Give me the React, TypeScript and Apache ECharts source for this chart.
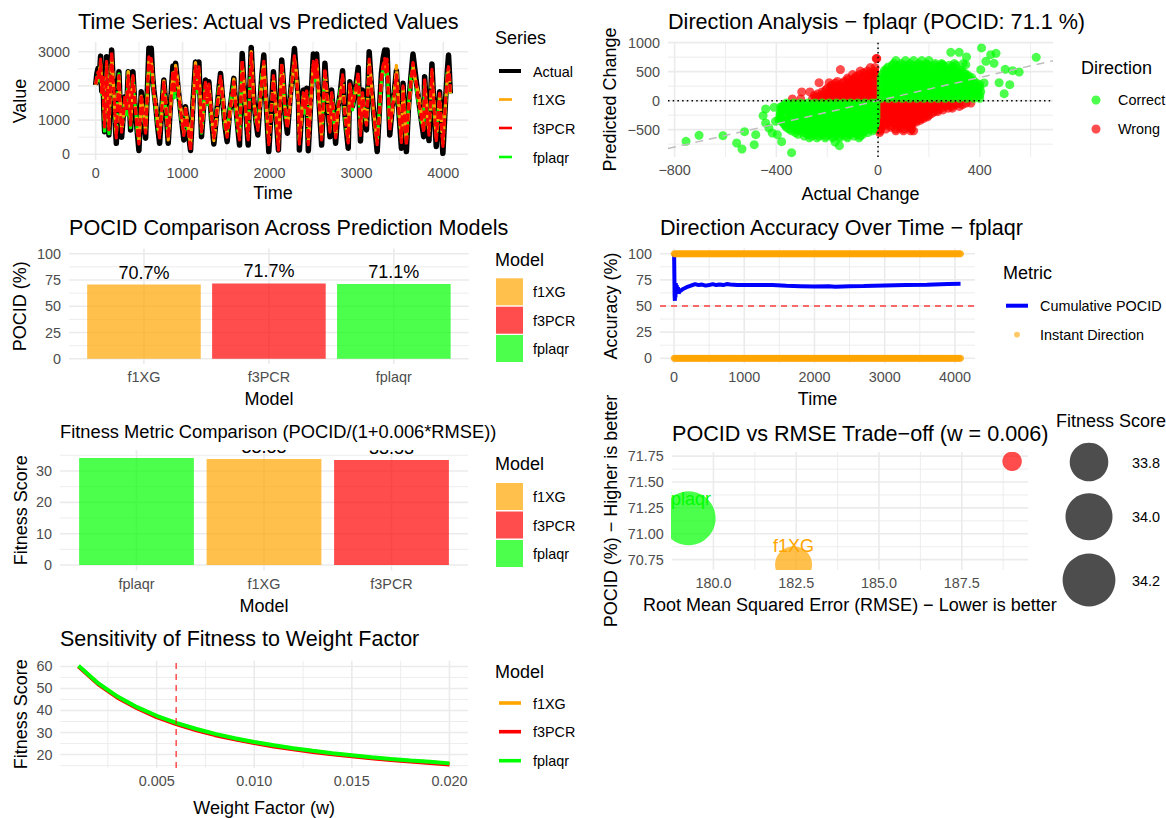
import React, { useEffect, useRef } from "react";
import * as echarts from "echarts";

const FONT = "Liberation Sans";
const ORANGE = "#FFA500";
const RED = "#FF0000";
const GREEN = "#00FF00";
const BLUE = "#0000FF";
const TICK = "#4D4D4D";

// Panel 1: time series
const tsTime = [0,14,27,42,57,70,85,94,103,115,
126,140,153,168,184,198,211,225,238,253,
268,283,299,318,337,356,375,389,402,416,
429,445,460,479,498,512,525,550,575,594,
613,627,640,655,670,692,714,736,760,785,
810,835,862,889,905,920,950,985,1015,1034,
1063,1092,1120,1149,1170,1188,1203,1218,1241,1264,
1284,1303,1331,1360,1385,1410,1437,1465,1490,1513,
1540,1565,1590,1612,1635,1655,1670,1686,1705,1724,
1740,1755,1772,1790,1805,1820,1843,1866,1890,1912,
1935,1954,1975,1992,2020,2046,2075,2103,2122,2141,
2157,2172,2189,2206,2233,2260,2287,2310,2333,2344,
2367,2390,2410,2428,2447,2476,2505,2525,2543,2566,
2589,2600,2619,2638,2667,2696,2715,2738,2761,2790,
2815,2841,2863,2885,2906,2925,2955,2988,3021,3047,
3070,3093,3116,3131,3147,3170,3193,3216,3239,3263,
3288,3307,3326,3340,3353,3368,3384,3410,3435,3460,
3490,3518,3537,3556,3575,3600,3625,3651,3678,3710,
3742,3774,3785,3810,3835,3852,3869,3894,3919,3938,
3957,3976,3995,4026,4045,4060,4072,4080];
const tsActual = [2025,2350,2510,2250,2870,1850,2270,1300,660,1700,
2850,1500,565,1900,3050,2300,1780,900,320,1600,
2415,1350,500,1150,1685,1250,2415,1500,710,1600,
2415,1700,1200,650,110,1000,1830,1100,470,1800,
3100,2700,3100,2300,1880,1400,800,320,1300,2170,
1300,320,1500,2580,1800,2660,1900,1100,420,1390,
700,110,1500,2700,1900,2700,1600,515,1350,2170,
1500,2120,1100,300,1000,1700,2365,1500,800,370,
1200,1700,2220,1400,800,270,1600,2950,2100,1390,
800,270,1800,3125,2300,1590,1000,565,1500,2300,
2900,1800,900,80,1300,2415,1200,125,1500,2755,
2200,1590,1000,615,1500,2300,3095,2300,1590,125,
1100,1880,1300,1930,105,1600,2930,2300,2930,1700,
760,270,1500,2660,1500,515,1880,1100,320,1400,
1800,2445,1300,700,175,2120,1400,1900,2540,390,
1880,1200,710,1800,3000,2100,1390,700,80,1200,
2365,2800,3050,2500,3050,1800,565,1300,1800,2445,
1200,175,2075,1000,80,1400,2200,2930,2365,1700,
1100,515,2270,1200,400,1500,2640,1300,225,1100,
1830,900,30,1590,2400,2900,2300,1780];
const tsF3PCR = [2050,2300,2400,2200,2780,1800,2250,1350,800,1650,
2720,1500,720,1850,3000,2250,1800,1000,480,1550,
2300,1300,650,1150,1700,1300,2300,1500,850,1550,
2300,1650,1250,720,300,1050,1750,1100,620,1750,
2850,2500,2800,2200,1800,1350,850,480,1300,2100,
1300,480,1500,2450,1800,2500,1850,1100,550,1400,
750,100,1500,2580,1850,2560,1550,650,1350,2100,
1500,2050,1150,480,1050,1700,2280,1500,850,500,
1200,1650,2120,1400,850,420,1550,2750,2000,1400,
850,420,1750,2950,2200,1550,1050,700,1500,2200,
2720,1750,950,280,1300,2300,1150,120,1500,2650,
2150,1550,1050,750,1500,2200,2880,2200,1550,300,
1150,1800,1300,1850,280,1600,2720,2250,2750,1650,
880,420,1500,2500,1500,650,1800,1150,480,1400,
1750,2320,1300,750,330,2050,1400,1850,2400,550,
1800,1200,850,1750,2780,2000,1400,750,280,1200,
2250,2600,2800,2400,2780,1750,700,1300,1750,2320,
1200,340,2000,1050,260,1400,2100,2680,2250,1650,
1150,650,2180,1200,560,1500,2480,1300,400,1100,
1780,950,230,1560,2300,2560,2200,1780];
const tsF1XG = [2030,2150,2350,2400,2700,2000,2200,1500,900,1400,
2640,1700,800,1700,2880,2400,1750,1150,560,1350,
2250,1550,720,1000,1650,1450,2420,1700,900,1400,
2250,1850,1300,850,380,850,1700,1300,700,1600,
2780,2600,2720,2400,1750,1550,1000,560,1100,2150,
1500,420,1300,2380,2000,2600,2050,1250,620,1350,
900,300,1300,2680,2050,2480,1750,720,1150,2050,
1650,2000,1300,400,850,1500,2200,1700,1000,570,
1000,1500,2200,1600,1000,500,1350,2680,2200,1350,
1000,500,1550,3000,2400,1500,1200,780,1300,2050,
2650,1950,1100,350,1100,2230,1400,280,1300,2600,
2300,1500,1200,820,1300,2050,2800,2400,1500,380,
950,1750,1500,1800,360,1400,2650,2400,2680,1850,
950,500,1300,2450,1700,720,1750,1300,560,1200,
1650,2250,1500,900,400,2000,1600,1700,2350,620,
1750,1400,900,1600,2700,2200,1350,900,350,1000,
2200,2550,2720,2550,2700,1900,780,1150,1600,2600,
1400,420,1950,1200,340,1200,1950,2600,2180,1850,
1300,720,2120,1400,640,1300,2400,1500,480,950,
1720,1100,320,1500,2150,2500,2250,1750];
const tsFplaqr = [2060,2250,2300,2150,2650,1750,2180,1250,600,1550,
2600,1350,600,2000,2750,2200,1720,850,580,1700,
2350,1200,780,1250,1620,1150,2420,1350,780,1700,
2200,1550,1350,600,420,1150,1680,1000,720,1900,
2700,2400,2650,2100,1720,1250,750,600,1400,2050,
1150,520,1600,2330,1650,2450,1750,950,680,1320,
650,350,1650,2520,1750,2420,1450,620,1450,2000,
1400,1980,1000,520,1150,1850,2150,1350,750,600,
1300,1800,2080,1250,700,560,1700,2620,1900,1320,
750,560,1900,2850,2100,1480,950,820,1600,2350,
2600,1650,850,400,1400,2180,1050,420,1650,2550,
2050,1480,950,860,1600,2300,2750,2100,1480,420,
1250,1720,1200,1760,400,1700,2600,2150,2620,1550,
1000,560,1650,2400,1350,780,1720,1000,600,1500,
1900,2200,1150,650,460,1950,1300,1950,2300,680,
1720,1100,950,1900,2650,1900,1320,650,400,1300,
2150,2500,2680,2300,2640,1650,820,1400,1900,2200,
1100,480,1900,950,430,1500,2250,2550,2100,1550,
1000,780,2080,1100,700,1600,2350,1200,540,1200,
1680,850,400,1460,2400,2300,2100,1700];

// Panel 2: direction scatter, rows of [predicted change, actual changes]
const correctUpperRows: [number, number[]][] = [
  [40,[12,40,68,96,124,152,180,208,236,264,292,320,348,376,400]],
  [70,[26,54,82,110,138,166,194,222,250,278,306,334,362,390]],
  [100,[12,40,68,96,124,152,180,208,236,264,292,320,348,376,400]],
  [130,[26,54,82,110,138,166,194,222,250,278,306,334,362,390]],
  [160,[12,40,68,96,124,152,180,208,236,264,292,320,348,376,404]],
  [190,[26,54,82,110,138,166,194,222,250,278,306,334,362,390]],
  [220,[12,40,68,96,124,152,180,208,236,264,292,320,348,376,400]],
  [250,[26,54,82,110,138,166,194,222,250,278,306,334,362,390]],
  [280,[12,40,68,96,124,152,180,208,236,264,292,320,348,376,400]],
  [310,[26,54,82,110,138,166,194,222,250,278,306,334,362,385]],
  [340,[12,40,68,96,124,152,180,208,236,264,292,320,348,376]],
  [370,[26,54,82,110,138,166,194,222,250,278,306,334,362]],
  [400,[12,40,68,96,124,152,180,208,236,264,292,320,348,368]],
  [430,[26,54,82,110,138,166,194,222,250,278,306,334,355]],
  [460,[18,46,74,102,130,158,186,214,242,270,298,326,345]],
  [490,[30,60,88,116,144,172,200,228,256,284,312,335]],
  [520,[25,50,78,106,134,162,190,218,246,274,302,325]],
  [550,[34,62,92,120,148,176,204,232,260,288,312]],
  [580,[40,68,96,124,152,180,208,236,264,292]],
  [610,[56,84,112,140,168,196,224,252,280,305]],
  [640,[62,92,125,160,190,225,250,300,335]],
  [690,[70,108,140,172,200]],
];
const correctLowerRows: [number, number[]][] = [
  [-40,[-360,-332,-304,-276,-248,-220,-192,-164,-136,-108,-80,-52,-24,-8]],
  [-70,[-366,-346,-318,-290,-262,-234,-206,-178,-150,-122,-94,-66,-38,-12]],
  [-100,[-372,-332,-304,-276,-248,-220,-192,-164,-136,-108,-80,-52,-24,-8]],
  [-130,[-376,-346,-318,-290,-262,-234,-206,-178,-150,-122,-94,-66,-38,-12]],
  [-160,[-380,-356,-332,-304,-276,-248,-220,-192,-164,-136,-108,-80,-52,-24,-8]],
  [-190,[-382,-346,-318,-290,-262,-234,-206,-178,-150,-122,-94,-66,-38,-12]],
  [-220,[-385,-360,-332,-304,-276,-248,-220,-192,-164,-136,-108,-80,-52,-24,-8]],
  [-250,[-385,-346,-318,-290,-262,-234,-206,-178,-150,-122,-94,-66,-38,-12]],
  [-280,[-385,-360,-332,-304,-276,-248,-220,-192,-164,-136,-108,-80,-52,-24,-8]],
  [-310,[-382,-346,-318,-290,-262,-234,-206,-178,-150,-122,-94,-66,-38,-12]],
  [-340,[-380,-356,-332,-304,-276,-248,-220,-192,-164,-136,-108,-80,-52,-24,-10]],
  [-370,[-376,-346,-318,-290,-262,-234,-206,-178,-150,-122,-94,-66,-38,-12]],
  [-400,[-370,-332,-304,-276,-248,-220,-192,-164,-136,-108,-80,-52,-24,-10]],
  [-430,[-365,-340,-318,-290,-262,-234,-206,-178,-150,-122,-94,-66,-38,-14]],
  [-460,[-360,-332,-304,-276,-248,-220,-192,-164,-136,-108,-80,-52,-24,-15]],
  [-490,[-350,-318,-290,-262,-234,-206,-178,-150,-122,-94,-66,-38,-20]],
  [-520,[-340,-304,-276,-248,-220,-192,-164,-136,-108,-80,-52,-22]],
  [-550,[-325,-290,-262,-234,-206,-178,-150,-122,-94,-66,-40]],
  [-580,[-315,-276,-248,-220,-192,-164,-136,-108,-80,-60]],
  [-610,[-290,-262,-234,-206,-178,-150,-122,-94,-70]],
  [-640,[-270,-240,-208,-178,-150,-120,-75]],
];
const correctOutliers: [number, number][] = [[286,833],[319,833],[348,753],[443,793],[464,816],[407,908],[622,747],[500,540],[529,517],[555,494],[476,310],[518,276],[496,121],[424,678],[456,644],[404,534],[417,305],[253,620],[345,620],[-152,-776],[-169,-713],[-340,-897],[-379,-707],[-481,-586],[-487,-759],[-535,-833],[-556,-730],[-525,-534],[-610,-603],[-704,-598],[-755,-701],[-442,-144],[-409,-115],[-383,-109],[-452,-259],[-442,-385],[-429,-471],[-403,-356],[-390,-328],[-416,-557],[-396,-586],[-376,-98]];
const wrongUpperRows: [number, number[]][] = [
  [30,[-337,-304,-258,-230,-202,-174,-146,-118,-90,-62,-34,-10]],
  [60,[-244,-216,-188,-160,-132,-104,-76,-48,-20]],
  [90,[-250,-222,-194,-166,-138,-110,-82,-54,-26,-8]],
  [120,[-236,-208,-180,-152,-124,-96,-68,-40,-12]],
  [150,[-300,-268,-220,-192,-164,-136,-108,-80,-52,-24,-8]],
  [180,[-206,-178,-150,-122,-94,-66,-38,-14]],
  [210,[-200,-172,-144,-116,-88,-60,-32,-10]],
  [240,[-186,-158,-130,-102,-74,-46,-18]],
  [270,[-182,-154,-126,-98,-70,-42,-14]],
  [300,[-168,-140,-112,-84,-56,-28,-10]],
  [310,[-232,-192]],
  [330,[-160,-132,-104,-76,-48,-20]],
  [360,[-118,-90,-62,-34,-12]],
  [390,[-120,-92,-64,-36,-10]],
  [420,[-86,-58,-30,-10]],
  [450,[-100,-72,-44,-16]],
  [480,[-56,-28,-12]],
  [510,[-70,-42,-14]],
  [535,[-148]],
  [570,[-30,-12]],
  [725,[-7,-5]],
];
const wrongLowerRows: [number, number[]][] = [
  [-40,[10,38,66,94,122,150,178,206,234,262,290,318,346,365]],
  [-70,[24,52,80,108,136,164,192,220,248,276,304,332]],
  [-100,[10,38,66,94,122,150,178,206,234,262,290,320]],
  [-130,[24,52,80,108,136,164,192,220,248,276,292]],
  [-160,[10,38,66,94,122,150,178,206,234,255]],
  [-190,[24,52,80,108,136,164,192,220,234]],
  [-220,[10,38,66,94,122,150,178,212]],
  [-250,[24,52,80,108,136,164,192,200]],
  [-280,[10,38,66,94,122,150,180,194]],
  [-310,[24,52,80,108,136,165,178]],
  [-340,[10,38,66,94,122,150,165]],
  [-370,[24,52,80,108,136,150]],
  [-400,[10,38,66,94,120,135]],
  [-430,[24,52,80,110,128]],
  [-460,[12,50,85,125]],
  [-490,[8,30,70,100,132]],
  [-520,[8,70,100,128,140]],
  [-550,[6]],
];
const refLine: [number, number][] = [[-826,-826],[688,688]];

// Panel 3: POCID bars
const pocidModels = ["f1XG","f3PCR","fplaqr"];
const pocidValues = [70.7,71.7,71.1];
const pocidLabels = ["70.7%","71.7%","71.1%"];
const pocidColors = [ORANGE,RED,GREEN];

// Panel 4: accuracy over time
const cumTime = [1,5,8,12,16,20,25,30,38,45,55,65,80,100,120,150,180,220,260,300,350,400,450,500,550,600,650,700,750,800,900,1000,1200,1400,1600,1800,2000,2200,2300,2500,2700,3000,3300,3600,3900,4080];
const cumPocid = [100,100,60,55,66,58,72,62,70,64,68,62,64,65,66,67,68,69,70,71,70,70.5,69.5,70,71,70,70.5,70,71,70.5,70,70,70,70,69.3,69,68.7,68.8,68.5,69,69.2,69.6,70,70.4,71,71.2];
const instantTime = [1,20,40,60,80,100,120,140,160,180,200,220,240,260,280,300,320,340,360,380,400,420,440,460,480,500,520,540,560,580,600,620,640,660,680,700,720,740,760,780,800,820,840,860,880,900,920,940,960,980,1000,1020,1040,1060,1080,1100,1120,1140,1160,1180,1200,1220,1240,1260,1280,1300,1320,1340,1360,1380,1400,1420,1440,1460,1480,1500,1520,1540,1560,1580,1600,1620,1640,1660,1680,1700,1720,1740,1760,1780,1800,1820,1840,1860,1880,1900,1920,1940,1960,1980,2000,2020,2040,2060,2080,2100,2120,2140,2160,2180,2200,2220,2240,2260,2280,2300,2320,2340,2360,2380,2400,2420,2440,2460,2480,2500,2520,2540,2560,2580,2600,2620,2640,2660,2680,2700,2720,2740,2760,2780,2800,2820,2840,2860,2880,2900,2920,2940,2960,2980,3000,3020,3040,3060,3080,3100,3120,3140,3160,3180,3200,3220,3240,3260,3280,3300,3320,3340,3360,3380,3400,3420,3440,3460,3480,3500,3520,3540,3560,3580,3600,3620,3640,3660,3680,3700,3720,3740,3760,3780,3800,3820,3840,3860,3880,3900,3920,3940,3960,3980,4000,4020,4040,4060,4080];
const instantLevels = [100,0];

// Panel 5: fitness bars
const fitnessModels = ["fplaqr","f1XG","f3PCR"];
const fitnessValues = [34.15,33.83,33.53];
const fitnessLabels = ["34.15","33.83","33.53"];
const fitnessColors = [GREEN,ORANGE,RED];

// Panel 6: trade-off bubbles
const tradeModels = ["f1XG","f3PCR","fplaqr"];
const tradeRmse = [182.42,189.02,179.25];
const tradePocid = [70.7,71.7,71.15];
const tradeSizes = [37,19.5,54];
const tradeColors = [ORANGE,RED,GREEN];
const tradeLabelShown = [true,false,true];
const bubbleLegend = ["33.8","34.0","34.2"];

// Panel 7: sensitivity
const weights = [0.001,0.002,0.003,0.004,0.005,0.006,0.007,0.008,0.009,0.01,0.011,0.012,0.013,0.014,0.015,0.016,0.017,0.018,0.019,0.02];
const sensF1XG = [60.1,52.1,46,41.2,37.3,34.1,31.4,29.1,27.2,25.5,24,22.7,21.5,20.4,19.5,18.6,17.8,17.1,16.5,15.8];
const sensF3PCR = [60,52,45.8,41,37,33.8,31.1,28.8,26.9,25.2,23.7,22.4,21.2,20.1,19.2,18.3,17.5,16.8,16.2,15.5];
const sensFplaqr = [60.3,52.4,46.3,41.5,37.6,34.4,31.7,29.4,27.4,25.7,24.2,22.9,21.7,20.6,19.7,18.8,18,17.3,16.7,16];

const flat = (rows: [number, number[]][]): [number, number][] =>
  rows.flatMap(([y, xs]) => xs.map((x) => [x, y] as [number, number]));

const tsPoints = (vals: number[]) => tsTime.map((t, i) => [t, vals[i]]);

type Geo = { l: number; r: number; t: number; b: number };
type Ax = { min: number; max: number; major: number[]; minor: number[]; fmt?: (v: number) => string; name: string; gap: number };

const minus = (v: number) => String(v).replace("-", "\u2212");

const gridLineItem = (params: any, api: any) => {
  const cs = params.coordSys;
  const dir = api.value(0);
  const v = api.value(1);
  const major = api.value(2);
  const p = dir === 0 ? api.coord([v, 0]) : api.coord([0, v]);
  const shape =
    dir === 0
      ? { x1: p[0], y1: cs.y, x2: p[0], y2: cs.y + cs.height }
      : { x1: cs.x, y1: p[1], x2: cs.x + cs.width, y2: p[1] };
  return { type: "line", shape, style: { stroke: "#EBEBEB", lineWidth: major ? 1.6 : 0.9, fill: null } };
};

const bubbleItem = (params: any, api: any) => {
  const i = params.dataIndex;
  const c = api.coord([api.value(0), api.value(1)]);
  const children: any[] = [
    { type: "circle", shape: { cx: c[0], cy: c[1], r: tradeSizes[i] / 2 }, style: { fill: tradeColors[i], opacity: 0.7 } },
  ];
  if (tradeLabelShown[i]) {
    children.push({
      type: "text",
      x: c[0],
      y: c[1] - 19,
      style: { text: tradeModels[i], fill: tradeColors[i], fontFamily: FONT, fontSize: 18, align: "center", verticalAlign: "middle" },
    });
  }
  return { type: "group", children };
};

function App() {
  const ref = useRef<HTMLDivElement>(null);
  useEffect(() => {
    document.body.style.margin = "0";
    const chart = echarts.init(ref.current!, undefined, { renderer: "svg" });
    const grids: any[] = [];
    const xAxes: any[] = [];
    const yAxes: any[] = [];
    const series: any[] = [];
    const titles: any[] = [];
    const g: any[] = [];

    const panel = (geo: Geo, x: Ax, y: Ax, title: string, titleSize: number, titleCy: number, titleX: number, xMargin = 6, yMargin = 8) => {
      const i = grids.length;
      grids.push({ left: geo.l, top: geo.t, width: geo.r - geo.l, height: geo.b - geo.t, containLabel: false });
      const common = (a: Ax, m: number) => ({
        type: "value",
        gridIndex: i,
        min: a.min,
        max: a.max,
        name: a.name,
        nameLocation: "middle",
        nameGap: a.gap,
        nameTextStyle: { fontFamily: FONT, fontSize: 18, color: "#000" },
        axisLine: { show: false },
        axisTick: { show: false },
        splitLine: { show: false },
        minorSplitLine: { show: false },
        axisLabel: {
          customValues: a.major,
          margin: m,
          color: TICK,
          fontFamily: FONT,
          fontSize: 14.4,
          formatter: (v: number) => (a.fmt ? a.fmt(v) : minus(v)),
        },
      });
      xAxes.push(common(x, xMargin));
      yAxes.push(common(y, yMargin));
      const lines: number[][] = [];
      y.minor.forEach((v) => lines.push([1, v, 0]));
      x.minor.forEach((v) => lines.push([0, v, 0]));
      y.major.forEach((v) => lines.push([1, v, 1]));
      x.major.forEach((v) => lines.push([0, v, 1]));
      series.push({
        type: "custom",
        xAxisIndex: i,
        yAxisIndex: i,
        silent: true,
        clip: false,
        z: 0,
        renderItem: gridLineItem,
        data: lines,
        tooltip: { show: false },
      });
      titles.push({
        text: title,
        left: titleX,
        top: titleCy - titleSize * 0.6,
        padding: 0,
        z: 100,
        textStyle: { fontFamily: FONT, fontSize: titleSize, fontWeight: "normal", color: "#000" },
      });
      return i;
    };

    const text = (x: number, y: number, t: string, size = 14.4) =>
      g.push({ type: "text", x, y, z: 60, style: { text: t, fontFamily: FONT, fontSize: size, fill: "#000", align: "left", verticalAlign: "middle" } });
    const keyLine = (y: number, color: string, w: number, dash?: number[]) =>
      g.push({ type: "line", z: 60, shape: { x1: 499, y1: y, x2: 521, y2: y }, style: { stroke: color, lineWidth: w, lineDash: dash } });
    const keyRect = (top: number, color: string) =>
      g.push({ type: "rect", z: 60, shape: { x: 496, y: top, width: 27, height: 27 }, style: { fill: color, opacity: 0.7 } });

    // ---- Panel 1
    const p1 = panel({ l: 78, r: 468, t: 42, b: 160 },
      { min: -203, max: 4284, major: [0,1000,2000,3000,4000], minor: [500,1500,2500,3500], name: "Time", gap: 24 },
      { min: -167, max: 3283, major: [0,1000,2000,3000], minor: [500,1500,2500], name: "Value", gap: 49 },
      "Time Series: Actual vs Predicted Values", 21.6, 23, 78);
    const tsLine = (vals: number[], name: string, color: string, w: number, dash?: number[]) =>
      series.push({ type: "line", name, xAxisIndex: p1, yAxisIndex: p1, data: tsPoints(vals), showSymbol: false, symbol: "none", lineStyle: { color, width: w, type: dash || "solid", cap: "butt", join: "round" }, z: 2 });
    tsLine(tsActual, "Actual", "#000", 5.5);
    tsLine(tsFplaqr, "fplaqr", GREEN, 3.2, [8, 3]);
    tsLine(tsF1XG, "f1XG", ORANGE, 3.2, [8, 3]);
    tsLine(tsF3PCR, "f3PCR", RED, 3.2, [8, 3]);
    text(495, 38, "Series", 18);
    keyLine(71, "#000", 4);
    keyLine(99.5, ORANGE, 2.6, [13, 9]);
    keyLine(128, RED, 2.6, [13, 9]);
    keyLine(157, GREEN, 2.6, [13, 9]);
    text(533, 72, "Actual"); text(533, 100, "f1XG"); text(533, 129, "f3PCR"); text(533, 158, "fplaqr");

    // ---- Panel 2
    const p2 = panel({ l: 668, r: 1053, t: 42, b: 157 },
      { min: -826, max: 688, major: [-800,-400,0,400], minor: [-600,-200,200,600], name: "Actual Change", gap: 28 },
      { min: -971, max: 1011, major: [-500,0,500,1000], minor: [-750,-250,250,750], name: "Predicted Change", gap: 49 },
      "Direction Analysis \u2212 fplaqr (POCID: 71.1 %)", 21.6, 23, 668);
    const scatter = (name: string, data: [number, number][], color: string) =>
      series.push({ type: "scatter", name, xAxisIndex: p2, yAxisIndex: p2, data, symbol: "circle", symbolSize: 9, itemStyle: { color, opacity: 0.7 }, z: 2 });
    scatter("Wrong", [...flat(wrongUpperRows), ...flat(wrongLowerRows)], RED);
    scatter("Correct", [...flat(correctUpperRows), ...flat(correctLowerRows), ...correctOutliers], GREEN);
    series.push({ type: "line", name: "y = x", xAxisIndex: p2, yAxisIndex: p2, data: refLine, symbol: "none", lineStyle: { color: "#BEBEBE", width: 1.5, type: [8, 6] }, z: 3 });
    series.push({ type: "line", name: "h0", xAxisIndex: p2, yAxisIndex: p2, data: [[-826,0],[688,0]], symbol: "none", lineStyle: { color: "#000", width: 1.5, type: [1.5, 3.2] }, z: 4 });
    series.push({ type: "line", name: "v0", xAxisIndex: p2, yAxisIndex: p2, data: [[0,-971],[0,1011]], symbol: "none", lineStyle: { color: "#000", width: 1.5, type: [1.5, 3.2] }, z: 4 });
    text(1081, 68, "Direction", 18);
    g.push({ type: "circle", z: 60, shape: { cx: 1096, cy: 100, r: 4.5 }, style: { fill: GREEN, opacity: 0.7 } });
    g.push({ type: "circle", z: 60, shape: { cx: 1096, cy: 129, r: 4.5 }, style: { fill: RED, opacity: 0.7 } });
    text(1118, 100, "Correct"); text(1118, 129, "Wrong");

    // ---- Panel 3
    const catFmt = (names: string[]) => (v: number) => names[v - 1];
    const p3 = panel({ l: 69, r: 468.8, t: 248.5, b: 364 },
      { min: 0.4, max: 3.6, major: [1,2,3], minor: [], fmt: catFmt(pocidModels), name: "Model", gap: 26 },
      { min: -5, max: 105, major: [0,25,50,75,100], minor: [12.5,37.5,62.5,87.5], name: "POCID (%)", gap: 40 },
      "POCID Comparison Across Prediction Models", 21.6, 229, 69);
    series.push({
      type: "bar", name: "POCID", xAxisIndex: p3, yAxisIndex: p3, barWidth: 113.6, z: 2,
      data: pocidValues.map((v, i) => ({ value: [i + 1, v], itemStyle: { color: pocidColors[i], opacity: 0.7 } })),
      label: { show: true, position: "top", distance: 3, opacity: 1, fontFamily: FONT, fontSize: 18, color: "#000", formatter: (p: any) => pocidLabels[p.dataIndex] },
    });
    text(495, 260, "Model", 18);
    keyRect(278.3, ORANGE); keyRect(306.7, RED); keyRect(335, GREEN);
    text(533, 292, "f1XG"); text(533, 320.5, "f3PCR"); text(533, 349, "fplaqr");

    // ---- Panel 4
    const p4 = panel({ l: 660, r: 975, t: 248.5, b: 363.5 },
      { min: -200, max: 4286, major: [0,1000,2000,3000,4000], minor: [500,1500,2500,3500], name: "Time", gap: 26 },
      { min: -5, max: 105, major: [0,25,50,75,100], minor: [12.5,37.5,62.5,87.5], name: "Accuracy (%)", gap: 40 },
      "Direction Accuracy Over Time \u2212 fplaqr", 21.6, 229, 660);
    series.push({ type: "line", name: "Cumulative POCID", xAxisIndex: p4, yAxisIndex: p4, data: cumTime.map((t, i) => [t, cumPocid[i]]), symbol: "none", lineStyle: { color: BLUE, width: 4 }, z: 2 });
    series.push({ type: "line", name: "50%", xAxisIndex: p4, yAxisIndex: p4, data: [[-200,50],[4286,50]], symbol: "none", lineStyle: { color: "rgba(255,0,0,0.75)", width: 1.4, type: [6, 5] }, z: 2 });
    instantLevels.forEach((lvl) => series.push({ type: "scatter", name: "Instant Direction", xAxisIndex: p4, yAxisIndex: p4, data: instantTime.map((t) => [t, lvl]), symbol: "circle", symbolSize: 7, itemStyle: { color: ORANGE }, z: 3 }));
    text(1003, 273, "Metric", 18);
    g.push({ type: "line", z: 60, shape: { x1: 1006, y1: 305.7, x2: 1028, y2: 305.7 }, style: { stroke: BLUE, lineWidth: 4 } });
    g.push({ type: "circle", z: 60, shape: { cx: 1017, cy: 334.7, r: 3 }, style: { fill: ORANGE, opacity: 0.6 } });
    text(1040, 306, "Cumulative POCID"); text(1040, 335, "Instant Direction");

    // ---- Panel 5
    const p5 = panel({ l: 60, r: 468, t: 450, b: 570.6 },
      { min: 0.4, max: 3.6, major: [1,2,3], minor: [], fmt: catFmt(fitnessModels), name: "Model", gap: 26 },
      { min: -1.78, max: 36.7, major: [0,10,20,30], minor: [5,15,25,35], name: "Fitness Score", gap: 30 },
      "Fitness Metric Comparison (POCID/(1+0.006*RMSE))", 18.3, 433, 60);
    series.push({
      type: "bar", name: "Fitness", xAxisIndex: p5, yAxisIndex: p5, barWidth: 114.8, z: 2,
      data: fitnessValues.map((v, i) => ({
        value: [i + 1, v],
        itemStyle: { color: fitnessColors[i], opacity: 0.7 },
        label: { distance: i === 0 ? 6 : 3 },
      })),
      label: { show: true, position: "top", opacity: 1, fontFamily: FONT, fontSize: 18, color: "#000", formatter: (p: any) => fitnessLabels[p.dataIndex] },
    });
    // the panel clips the value labels at its top edge
    g.push({ type: "rect", z: 50, shape: { x: 60, y: 420, width: 408, height: 30 }, style: { fill: "#fff" } });
    text(495, 464, "Model", 18);
    keyRect(483, ORANGE); keyRect(511.5, RED); keyRect(540, GREEN);
    text(533, 497, "f1XG"); text(533, 525.5, "f3PCR"); text(533, 554, "fplaqr");

    // ---- Panel 6
    const p6 = panel({ l: 671.7, r: 1028, t: 452, b: 570 },
      { min: 178.74, max: 189.5, major: [180,182.5,185,187.5], minor: [181.25,183.75,186.25,188.75], fmt: (v) => v.toFixed(1), name: "Root Mean Squared Error (RMSE) \u2212 Lower is better", gap: 26 },
      { min: 70.65, max: 71.79, major: [70.75,71,71.25,71.5,71.75], minor: [70.875,71.125,71.375,71.625], fmt: (v) => v.toFixed(2), name: "POCID (%) \u2212 Higher is better", gap: 52 },
      "POCID vs RMSE Trade\u2212off (w = 0.006)", 21.6, 435, 672);
    series.push({
      type: "custom", name: "Trade-off", xAxisIndex: p6, yAxisIndex: p6, clip: true, z: 2,
      renderItem: bubbleItem,
      data: tradeModels.map((_, i) => [tradeRmse[i], tradePocid[i]]),
    });
    text(1056, 421, "Fitness Score", 18);
    [[462, 19.3], [516.7, 23.5], [580, 26.4]].forEach(([cy, r]) =>
      g.push({ type: "circle", z: 60, shape: { cx: 1089, cy, r }, style: { fill: "#4D4D4D" } }));
    text(1132, 463, bubbleLegend[0]); text(1132, 517, bubbleLegend[1]); text(1132, 581, bubbleLegend[2]);

    // ---- Panel 7
    const p7 = panel({ l: 60.4, r: 468, t: 660.7, b: 773 },
      { min: 0.00007, max: 0.02095, major: [0.005,0.01,0.015,0.02], minor: [0.0025,0.0075,0.0125,0.0175], fmt: (v) => v.toFixed(3), name: "Weight Factor (w)", gap: 31 },
      { min: 13.9, max: 62.6, major: [20,30,40,50,60], minor: [15,25,35,45,55], name: "Fitness Score", gap: 30 },
      "Sensitivity of Fitness to Weight Factor", 21.5, 641, 60);
    const sens = (vals: number[], name: string, color: string) =>
      series.push({ type: "line", name, xAxisIndex: p7, yAxisIndex: p7, data: weights.map((w, i) => [w, vals[i]]), symbol: "none", lineStyle: { color, width: 4 }, z: 2 });
    sens(sensF1XG, "f1XG", ORANGE);
    sens(sensF3PCR, "f3PCR", RED);
    sens(sensFplaqr, "fplaqr", GREEN);
    series.push({ type: "line", name: "w", xAxisIndex: p7, yAxisIndex: p7, data: [[0.006,13.9],[0.006,62.6]], symbol: "none", lineStyle: { color: "rgba(255,0,0,0.75)", width: 1.4, type: [6, 5] }, z: 3 });
    text(495, 672, "Model", 18);
    keyLine(703, ORANGE, 3.6); keyLine(731.7, RED, 3.6); keyLine(760.7, GREEN, 3.6);
    text(533, 703.5, "f1XG"); text(533, 732, "f3PCR"); text(533, 761, "fplaqr");

    chart.setOption({
      animation: false,
      backgroundColor: "#fff",
      textStyle: { fontFamily: FONT },
      title: titles,
      grid: grids,
      xAxis: xAxes,
      yAxis: yAxes,
      series,
      graphic: { elements: g },
    });
    return () => chart.dispose();
  }, []);
  return <div ref={ref} style={{ position: "absolute", left: 0, top: 0, width: 1166, height: 818, overflow: "hidden" }} />;
}

export default App;
